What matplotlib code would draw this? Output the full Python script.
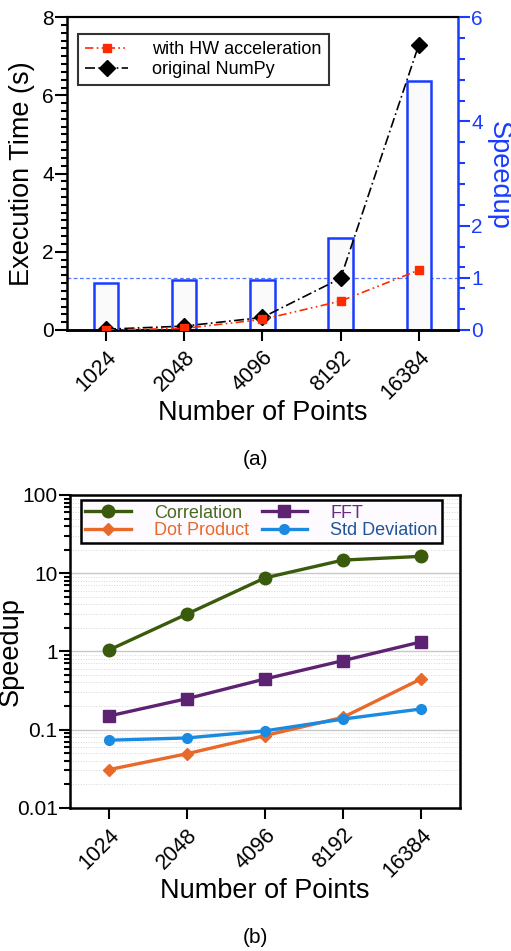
import matplotlib
matplotlib.use("Agg")
import matplotlib.pyplot as plt
import numpy as np
from matplotlib.ticker import MultipleLocator, FixedLocator, LogLocator, NullFormatter

plt.rcParams['font.family'] = ['Liberation Sans', 'DejaVu Sans']

points = ["1024", "2048", "4096", "8192", "16384"]
hw_time = [0.0, 0.04, 0.27, 0.74, 1.53]
numpy_time = [0.02, 0.10, 0.32, 1.32, 7.29]
speedup_a = [0.91, 0.96, 0.96, 1.77, 4.77]

correlation = [1.04, 3.0, 8.7, 14.7, 16.4]
dot_product = [0.0307, 0.049, 0.0836, 0.143, 0.443]
fft = [0.149, 0.248, 0.443, 0.76, 1.32]
std_dev = [0.073, 0.078, 0.096, 0.136, 0.183]

BLUE = '#1a3cff'
LBL = 19.5
TCK = 15
XTCK = 15.5
fig = plt.figure(figsize=(5.11, 9.51), dpi=100)

# ---------------- (a) ----------------
ax = fig.add_axes([0.131, 0.653, 0.765, 0.329])
ax2 = ax.twinx()
x = np.arange(len(points))
ax2.bar(x, speedup_a, width=0.31, facecolor='#fafafa', edgecolor=BLUE, linewidth=1.8, zorder=1)
ax2.axhline(1.0, color='#5577ff', linestyle=(0, (3, 2)), linewidth=0.9, zorder=0)
ax2.set_ylim(0, 6)
ax2.yaxis.set_major_locator(FixedLocator([0, 1, 2, 4, 6]))
ax2.yaxis.set_minor_locator(MultipleLocator(0.4))
ax2.tick_params(axis='y', which='major', colors=BLUE, labelcolor=BLUE, labelsize=TCK, length=8.5, width=1.5, pad=1)
ax2.tick_params(axis='y', which='minor', colors=BLUE, length=5, width=1.5)
ax2.spines['right'].set_color(BLUE)
ax2.spines['right'].set_linewidth(1.8)
ax2.spines['left'].set_visible(False)
ax2.spines['top'].set_linewidth(1.5)
ax2.spines['bottom'].set_linewidth(1.8)
ax2.set_ylabel('Speedup', color=BLUE, fontsize=LBL, rotation=270)
ax2.yaxis.label.set_va('center')
ax2.yaxis.set_label_coords(1.105, 0.495)

ax.set_zorder(ax2.get_zorder() + 1)
ax.patch.set_visible(False)
ax.plot(x, numpy_time, color='black', linestyle=(0, (6, 2, 1, 2)), linewidth=1.2,
        marker='D', markersize=8, markerfacecolor='black', label='original NumPy', zorder=3)
ax.plot(x, hw_time, color='#ff2a00', linestyle=(0, (5, 2, 1, 2, 1, 2)), linewidth=1.2,
        marker='s', markersize=6, markerfacecolor='#ff2a00', markeredgecolor='#ff2a00',
        label='with HW acceleration', zorder=4)
ax.set_xlim(-0.5, 4.5)
ax.set_ylim(0, 8)
ax.yaxis.set_major_locator(MultipleLocator(2))
ax.yaxis.set_minor_locator(MultipleLocator(0.2))
ax.tick_params(axis='y', which='major', labelsize=TCK, length=8.5, width=1.5, pad=1)
ax.tick_params(axis='y', which='minor', length=4.5, width=1.5)
ax.set_xticks(x)
ax.set_xticklabels(points, rotation=45, ha='right', rotation_mode='anchor', fontsize=XTCK)
ax.tick_params(axis='x', length=8, width=1.5, pad=4)
for s in ['left', 'bottom']:
    ax.spines[s].set_linewidth(1.8)
ax.spines['top'].set_linewidth(1.5)
ax.spines['right'].set_visible(False)
ax.set_ylabel('Execution Time (s)', fontsize=LBL)
ax.yaxis.label.set_va('center')
ax.yaxis.set_label_coords(-0.115, 0.5)
ax.set_xlabel('Number of Points', fontsize=LBL)
ax.xaxis.label.set_va('center')
ax.xaxis.set_label_coords(0.5, -0.265)
handles, labels = ax.get_legend_handles_labels()
leg = ax.legend(handles[::-1], labels[::-1], loc='upper left', bbox_to_anchor=(0.028, 0.946),
                borderaxespad=0, fontsize=13, frameon=True, fancybox=False, edgecolor='black',
                handlelength=2.4, handletextpad=1.3, labelspacing=0.15, borderpad=0.4)
leg.get_frame().set_linewidth(1.5)
fig.text(0.5, 0.5163, '(a)', ha='center', va='center', fontsize=15)

# ---------------- (b) ----------------
bx = fig.add_axes([0.137, 0.1507, 0.763, 0.3288])
series = [
    ('Correlation', correlation, '#3a5a0c', 'o', 9, '#4a6a1e'),
    ('Dot Product', dot_product, '#e8692a', 'D', 6, '#e8692a'),
    ('FFT', fft, '#5e2272', 's', 9, '#6a2c82'),
    ('Std Deviation', std_dev, '#1a8be0', 'o', 7, '#1f5597'),
]
for name, vals, col, mk, ms, tc in series:
    bx.plot(x, vals, color=col, linewidth=2.4, marker=mk, markersize=ms,
            markerfacecolor=col, markeredgecolor=col, label=name, zorder=3)
bx.set_yscale('log')
bx.set_ylim(0.01, 100)
bx.set_xlim(-0.5, 4.5)
bx.yaxis.set_major_locator(FixedLocator([0.01, 0.1, 1, 10, 100]))
bx.set_yticklabels(['0.01', '0.1', '1', '10', '100'])
bx.yaxis.set_minor_locator(LogLocator(base=10, subs=np.arange(2, 10)))
bx.yaxis.set_minor_formatter(NullFormatter())
bx.tick_params(axis='y', which='major', labelsize=TCK, length=8, width=1.5, pad=1)
bx.tick_params(axis='y', which='minor', length=4.5, width=1.5)
bx.set_xticks(x)
bx.set_xticklabels(points, rotation=45, ha='right', rotation_mode='anchor', fontsize=XTCK)
bx.tick_params(axis='x', length=8, width=1.5, pad=4)
bx.grid(True, which='major', axis='y', color='#c8c8c8', linewidth=1.0, linestyle='-', zorder=0)
bx.grid(True, which='minor', axis='y', color='#d8d8d8', linewidth=0.7, linestyle=':', zorder=0)
for s in bx.spines.values():
    s.set_linewidth(1.8)
bx.set_ylabel('Speedup', fontsize=LBL)
bx.yaxis.label.set_va('center')
bx.yaxis.set_label_coords(-0.151, 0.5)
bx.set_xlabel('Number of Points', fontsize=LBL)
bx.xaxis.label.set_va('center')
bx.xaxis.set_label_coords(0.5, -0.266)
leg2 = bx.legend(loc='upper left', bbox_to_anchor=(0.028, 0.984), borderaxespad=0, ncol=2,
                 fontsize=13, frameon=True, fancybox=False, edgecolor='black', facecolor='#fdfbff',
                 handlelength=2.5, handletextpad=1.3, labelspacing=0.02, borderpad=0.25,
                 columnspacing=0.7, framealpha=1)
leg2.get_frame().set_linewidth(1.8)
for txt, (name, vals, col, mk, ms, tc) in zip(leg2.get_texts(), series):
    txt.set_color(tc)
fig.text(0.5, 0.0137, '(b)', ha='center', va='center', fontsize=15)

fig.savefig('out.png', dpi=100)
